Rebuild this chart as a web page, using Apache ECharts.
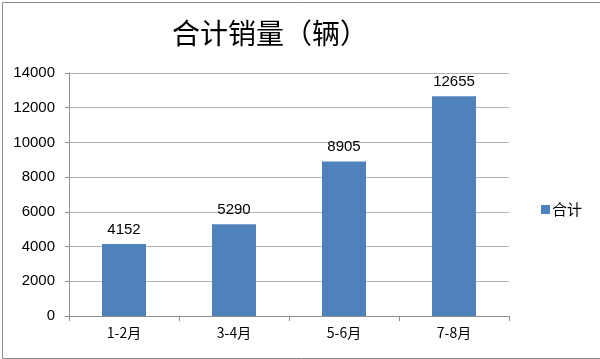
<!DOCTYPE html>
<html><head><meta charset="utf-8">
<script src="https://cdn.jsdelivr.net/npm/echarts@6/dist/echarts.min.js"></script>
<style>html,body{margin:0;padding:0;background:#fff}#c{width:600px;height:359px}</style>
</head><body><div id="c"></div>
<script>
var categories = ['1-2月', '3-4月', '5-6月', '7-8月'];
var seriesName = '合计';
var values = [4152, 5290, 8905, 12655];
var titleText = '合计销量（辆）';

var font = '"Liberation Sans", "Noto Sans CJK SC", sans-serif';
var chart = echarts.init(document.getElementById('c'), null, {renderer: 'canvas'});
chart.setOption({
  animation: false,
  backgroundColor: '#fff',
  graphic: [{
    type: 'rect', left: 0, top: 0, z: -1,
    shape: {x: 0.5, y: 0.5, width: 598, height: 356},
    style: {fill: 'none', stroke: '#8c8c8c', lineWidth: 1}
  }],
  title: {
    text: titleText, left: 167, top: 14,
    textStyle: {fontFamily: '"Noto Sans CJK SC", sans-serif', fontSize: 28, fontWeight: 'normal', color: '#000'}
  },
  grid: {left: 69, right: 91, top: 73, bottom: 43, containLabel: false},
  legend: {
    data: [seriesName], left: 536, top: 197, orient: 'vertical',
    icon: 'rect', itemWidth: 9, itemHeight: 9, itemGap: 4,
    textStyle: {fontFamily: '"Noto Sans CJK SC", sans-serif', fontSize: 15, color: '#000', padding: [0,0,0,-3]}
  },
  xAxis: {
    type: 'category', data: categories,
    axisLine: {lineStyle: {color: '#8c8c8c'}},
    axisTick: {show: true, length: 5, lineStyle: {color: '#8c8c8c'}},
    axisLabel: {fontFamily: '"Noto Sans CJK SC", sans-serif', fontSize: 14, color: '#000', margin: 10}
  },
  yAxis: {
    type: 'value', min: 0, max: 14000, interval: 2000,
    axisLine: {show: true, lineStyle: {color: '#8c8c8c'}},
    axisTick: {show: true, length: 4, lineStyle: {color: '#8c8c8c'}},
    splitLine: {lineStyle: {color: '#b3b3b3'}},
    axisLabel: {fontFamily: font, fontSize: 15, color: '#000', margin: 14,
      formatter: function (v) { return String(v); }}
  },
  series: [{
    name: seriesName, type: 'bar', data: values, barWidth: 44,
    itemStyle: {color: '#4f81bd'},
    label: {show: true, position: 'top', distance: 7, fontFamily: font, fontSize: 15, color: '#000'}
  }]
});
</script></body></html>
